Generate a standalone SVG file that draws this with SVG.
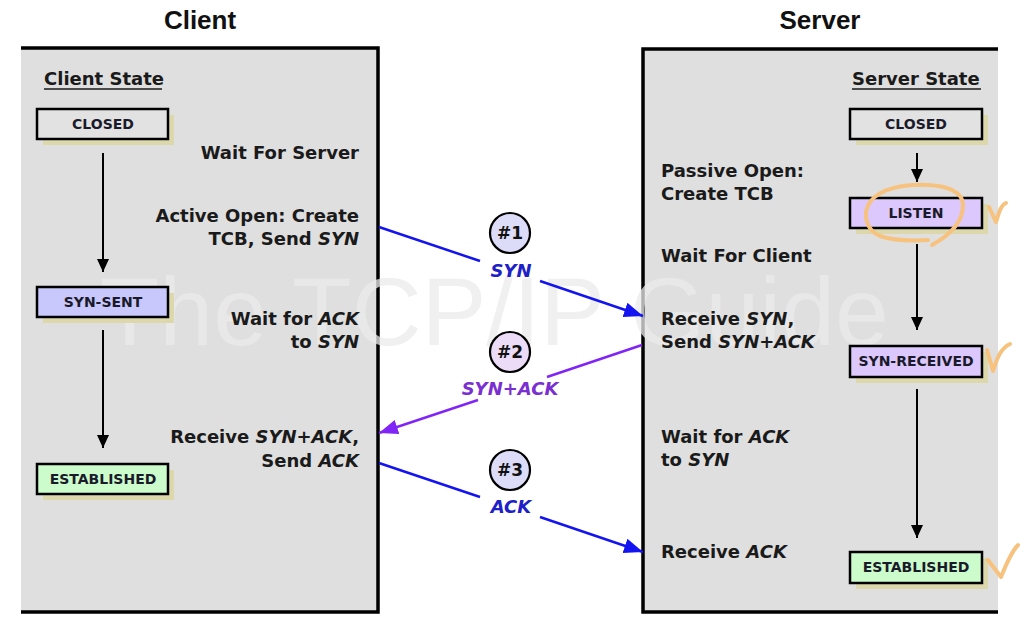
<svg xmlns="http://www.w3.org/2000/svg" width="1028" height="630" viewBox="0 0 1028 630">
<defs>
<style>
.title{font-family:"Liberation Sans",Arial,sans-serif;font-weight:bold;font-size:26px;fill:#111;text-anchor:middle}
.t{font-family:"DejaVu Sans",Verdana,sans-serif;font-weight:bold;font-size:18px;fill:#1a1a1a}
.r{text-anchor:end}
.st{font-family:"DejaVu Sans",Verdana,sans-serif;font-weight:bold;font-size:14px;fill:#1a1a2a;text-anchor:middle}
.box{stroke:#000;stroke-width:2.5}
.sh{fill:#dcd8ac}
.arr{stroke:#000;stroke-width:2;fill:none}
.blue{stroke:#1414f0;stroke-width:2.5;fill:none}
.purp{stroke:#8025f5;stroke-width:2.5;fill:none}
.lbl{font-family:"DejaVu Sans",Verdana,sans-serif;font-weight:bold;font-style:italic;font-size:18px;text-anchor:middle}
.num{font-family:"DejaVu Sans",Verdana,sans-serif;font-weight:bold;font-size:17px;fill:#111;text-anchor:middle}
.circ{stroke:#000;stroke-width:2.2}
.hand{stroke:#f7c27e;stroke-width:4;fill:none;stroke-linecap:round;stroke-linejoin:round}
</style>
<marker id="ah" markerUnits="userSpaceOnUse" markerWidth="14" markerHeight="14" refX="13" refY="6" orient="auto">
<path d="M0,0 L13,6 L0,12 z" fill="#000"/>
</marker>
<marker id="ab" markerUnits="userSpaceOnUse" markerWidth="20" markerHeight="16" refX="19" refY="7.5" orient="auto">
<path d="M0,0 L19,7.5 L0,15 z" fill="#1414f0"/>
</marker>
<marker id="ap" markerUnits="userSpaceOnUse" markerWidth="20" markerHeight="16" refX="19" refY="7.5" orient="auto">
<path d="M0,0 L19,7.5 L0,15 z" fill="#8025f5"/>
</marker>
</defs>
<rect x="0" y="0" width="1028" height="630" fill="#fff"/>

<g id="client-panel">
<rect x="21" y="48" width="357" height="564" fill="#dfdfdf"/>
<path d="M21,48 H378 V612 H21" fill="none" stroke="#000" stroke-width="3.5"/>
</g>
<g id="server-panel">
<rect x="643" y="49" width="355" height="563" fill="#dfdfdf"/>
<path d="M998,49 H643 V612 H998" fill="none" stroke="#000" stroke-width="3.5"/>
</g>

<text x="100" y="345" font-family="Liberation Sans, Arial, sans-serif" font-size="97" fill="#ebebeb" opacity="0.75">The TCP/IP Guide</text>

<text class="title" x="200" y="29">Client</text>
<text class="title" x="820" y="29">Server</text>

<g id="client-state-label">
<text class="t" x="44" y="85">Client State</text>
<line x1="44" y1="89" x2="162" y2="89" stroke="#1a1a1a" stroke-width="1.5"/>
</g>
<g id="server-state-label">
<text class="t" x="852" y="85">Server State</text>
<line x1="852" y1="89" x2="981" y2="89" stroke="#1a1a1a" stroke-width="1.5"/>
</g>

<g id="c-closed">
<rect class="sh" x="43" y="115" width="131" height="30"/>
<rect class="box" x="37" y="109" width="131" height="30" fill="#e2e2e2"/>
<text class="st" x="103" y="129">CLOSED</text>
</g>
<g id="c-synsent">
<rect class="sh" x="43" y="293" width="131" height="30"/>
<rect class="box" x="37" y="287" width="131" height="30" fill="#c8c8fc"/>
<text class="st" x="103" y="307">SYN-SENT</text>
</g>
<g id="c-established">
<rect class="sh" x="43" y="470" width="131" height="30"/>
<rect class="box" x="37" y="464" width="131" height="30" fill="#ccfccc"/>
<text class="st" x="103" y="484">ESTABLISHED</text>
</g>

<g id="s-closed">
<rect class="sh" x="856" y="115" width="132" height="30"/>
<rect class="box" x="850" y="109" width="132" height="30" fill="#e2e2e2"/>
<text class="st" x="916" y="129">CLOSED</text>
</g>
<g id="s-listen">
<rect class="sh" x="856" y="204" width="132" height="30"/>
<rect class="box" x="850" y="198" width="132" height="30" fill="#dcc8fc"/>
<text class="st" x="916" y="218">LISTEN</text>
</g>
<g id="s-synreceived">
<rect class="sh" x="856" y="352" width="132" height="31"/>
<rect class="box" x="850" y="346" width="132" height="31" fill="#dcc8fc"/>
<text class="st" x="916" y="366">SYN-RECEIVED</text>
</g>
<g id="s-established">
<rect class="sh" x="856" y="558" width="132" height="31"/>
<rect class="box" x="850" y="552" width="132" height="31" fill="#ccfccc"/>
<text class="st" x="916" y="572">ESTABLISHED</text>
</g>

<g id="client-texts">
<text class="t r" x="359" y="159">Wait For Server</text>
<text class="t r" x="359" y="222">Active Open: Create</text>
<text class="t r" x="359" y="245">TCB, Send <tspan font-style="italic">SYN</tspan></text>
<text class="t r" x="359" y="325">Wait for <tspan font-style="italic">ACK</tspan></text>
<text class="t r" x="359" y="348">to <tspan font-style="italic">SYN</tspan></text>
<text class="t r" x="359" y="443">Receive <tspan font-style="italic">SYN+ACK</tspan>,</text>
<text class="t r" x="359" y="467">Send <tspan font-style="italic">ACK</tspan></text>
</g>
<g id="server-texts">
<text class="t" x="661" y="177">Passive Open:</text>
<text class="t" x="661" y="200">Create TCB</text>
<text class="t" x="661" y="262">Wait For Client</text>
<text class="t" x="661" y="325">Receive <tspan font-style="italic">SYN</tspan>,</text>
<text class="t" x="661" y="348">Send <tspan font-style="italic">SYN+ACK</tspan></text>
<text class="t" x="661" y="443">Wait for <tspan font-style="italic">ACK</tspan></text>
<text class="t" x="661" y="466">to <tspan font-style="italic">SYN</tspan></text>
<text class="t" x="661" y="558">Receive <tspan font-style="italic">ACK</tspan></text>
</g>

<g id="connectors">
<line class="arr" x1="103" y1="153" x2="103" y2="272" marker-end="url(#ah)"/>
<line class="arr" x1="103" y1="330" x2="103" y2="448" marker-end="url(#ah)"/>
<line class="arr" x1="917" y1="153" x2="917" y2="182" marker-end="url(#ah)"/>
<line class="arr" x1="917" y1="244" x2="917" y2="330" marker-end="url(#ah)"/>
<line class="arr" x1="917" y1="389" x2="917" y2="538" marker-end="url(#ah)"/>
<line class="blue" x1="379" y1="227" x2="480" y2="261"/>
<line class="blue" x1="540" y1="281" x2="643" y2="316" marker-end="url(#ab)"/>
<line class="purp" x1="642" y1="345" x2="547" y2="377"/>
<line class="purp" x1="478" y1="400" x2="379" y2="433" marker-end="url(#ap)"/>
<line class="blue" x1="379" y1="463" x2="480" y2="497"/>
<line class="blue" x1="540" y1="517" x2="643" y2="552" marker-end="url(#ab)"/>
</g>

<g id="step1">
<circle class="circ" cx="510" cy="233" r="20" fill="#dcdcf8"/>
<text class="num" x="510" y="239">#1</text>
<text class="lbl" x="511" y="277" fill="#2020c8">SYN</text>
</g>
<g id="step2">
<circle class="circ" cx="510" cy="352" r="20" fill="#ecdcf8"/>
<text class="num" x="510" y="358">#2</text>
<text class="lbl" x="510" y="395" fill="#7a30d0">SYN+ACK</text>
</g>
<g id="step3">
<circle class="circ" cx="510" cy="470" r="20" fill="#dcdcf8"/>
<text class="num" x="510" y="476">#3</text>
<text class="lbl" x="511" y="513" fill="#2020c8">ACK</text>
</g>

<g id="annotations">
<path class="hand" d="M928,240 C910,241 895,241 880,236 C866,230 862,214 870,202 C880,188 905,184 928,185 C948,186 963,192 963,205 C963,220 952,234 932,245"/>
<path class="hand" d="M989,207 L996,222 C999,212 1001,205 1006,203"/>
<path class="hand" d="M987,350 L993,371 C997,358 1001,348 1010,344"/>
<path class="hand" d="M988,560 L1001,577 C1006,565 1011,552 1018,545"/>
</g>
</svg>
